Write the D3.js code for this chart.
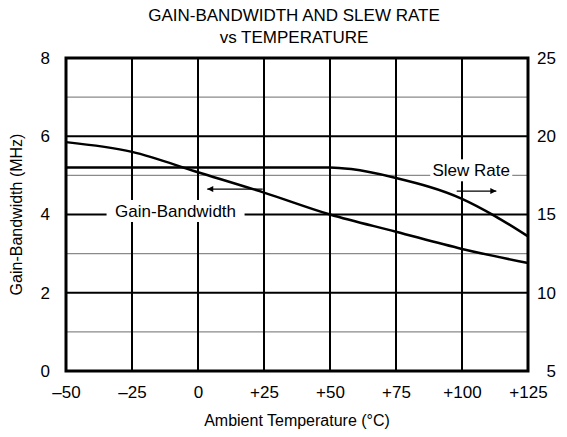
<!DOCTYPE html>
<html>
<head>
<meta charset="utf-8">
<script src="https://cdn.jsdelivr.net/npm/d3@7"></script>
<style>
  body { margin: 0; background: #fff; }
  text { font-family: "Liberation Sans", Arial, sans-serif; fill: #000; }
</style>
</head>
<body>
<div id="chart"></div>
<script>
// data
var temps = [-50, -25, 0, 25, 50, 75, 100, 125];
var gbw = [5.85, 5.6, 5.08, 4.56, 4.0, 3.56, 3.12, 2.76];
var slewTemps = [-50, -25, 0, 25, 50, 58, 75, 100, 112.5, 125];
var slew = [18, 18, 18, 18, 18, 17.9, 17.33, 16.0, 14.9, 13.6];
var xTickLabels = ["–50", "–25", "0", "+25", "+50", "+75", "+100", "+125"];
var leftTicks = [0, 2, 4, 6, 8];
var rightTicks = [5, 10, 15, 20, 25];
var minorTicks = [1, 3, 5, 7];

var W = 567, H = 437;
var margin = { top: 58, right: 39, bottom: 66, left: 66 };
var width = W - margin.left - margin.right;
var height = H - margin.top - margin.bottom;

var x = d3.scaleLinear().domain([-50, 125]).range([0, width]);
var yL = d3.scaleLinear().domain([0, 8]).range([height, 0]);
var yR = d3.scaleLinear().domain([5, 25]).range([height, 0]);

var svg = d3.select('#chart').append('svg')
    .attr('width', W)
    .attr('height', H);

// title
svg.append('text').attr('x', 294).attr('y', 21).attr('text-anchor', 'middle')
    .style('font-size', '17px').text('GAIN-BANDWIDTH AND SLEW RATE');
svg.append('text').attr('x', 294).attr('y', 43).attr('text-anchor', 'middle')
    .style('font-size', '17px').text('vs TEMPERATURE');

var g = svg.append('g')
    .attr('transform', 'translate(' + margin.left + ',' + margin.top + ')');

// minor gridlines (grey)
g.selectAll('.minor').data(minorTicks).enter().append('line')
    .attr('x1', 0).attr('x2', width)
    .attr('y1', function(d) { return yL(d); })
    .attr('y2', function(d) { return yL(d); })
    .style('stroke', '#8a8a8a').style('stroke-width', 1.3);

// major gridlines
g.selectAll('.major').data(leftTicks).enter().append('line')
    .attr('x1', 0).attr('x2', width)
    .attr('y1', function(d) { return yL(d); })
    .attr('y2', function(d) { return yL(d); })
    .style('stroke', '#000').style('stroke-width', 2);

g.selectAll('.vgrid').data(temps).enter().append('line')
    .attr('x1', function(d) { return x(d); })
    .attr('x2', function(d) { return x(d); })
    .attr('y1', 0).attr('y2', height)
    .style('stroke', '#000').style('stroke-width', 2);

// label boxes that break the grid
function labelBox(cx, cy, txt, w) {
  g.append('rect').attr('x', cx - w / 2).attr('y', cy - 11)
      .attr('width', w).attr('height', 22).style('fill', '#fff');
  g.append('text').attr('x', cx).attr('y', cy + 6).attr('text-anchor', 'middle')
      .style('font-size', '17px').text(txt);
}

var gbwLine = d3.line()
    .x(function(d, i) { return x(temps[i]); })
    .y(function(d) { return yL(d); })
    .curve(d3.curveMonotoneX);

var slewLine = d3.line()
    .x(function(d, i) { return x(slewTemps[i]); })
    .y(function(d) { return yR(d); })
    .curve(d3.curveMonotoneX);

labelBox(x(-8.5), yL(4.09), 'Gain-Bandwidth', 138);
labelBox(x(103.5), yL(5.13), 'Slew Rate', 82);

g.append('path').datum(gbw).attr('d', gbwLine)
    .style('fill', 'none').style('stroke', '#000').style('stroke-width', 2.5);
g.append('path').datum(slew).attr('d', slewLine)
    .style('fill', 'none').style('stroke', '#000').style('stroke-width', 2.5);

// arrows
svg.append('defs').append('marker')
    .attr('id', 'arr').attr('viewBox', '0 0 10 10')
    .attr('refX', 10).attr('refY', 5)
    .attr('markerWidth', 10).attr('markerHeight', 6)
    .attr('markerUnits', 'userSpaceOnUse')
    .attr('orient', 'auto')
    .append('path').attr('d', 'M0,0 L10,5 L0,10 z').style('fill', '#000');

g.append('line')
    .attr('x1', x(24.5)).attr('x2', x(3.5))
    .attr('y1', yL(4.65)).attr('y2', yL(4.65))
    .style('stroke', '#000').style('stroke-width', 1.2)
    .attr('marker-end', 'url(#arr)');
g.append('line')
    .attr('x1', x(98)).attr('x2', x(113))
    .attr('y1', yL(4.6)).attr('y2', yL(4.6))
    .style('stroke', '#000').style('stroke-width', 1.2)
    .attr('marker-end', 'url(#arr)');

// border
g.append('rect').attr('x', 0).attr('y', 0)
    .attr('width', width).attr('height', height)
    .style('fill', 'none').style('stroke', '#000').style('stroke-width', 3);

// axes
var xAxis = d3.axisBottom(x).tickValues(temps).tickSize(0).tickPadding(15)
    .tickFormat(function(d, i) { return xTickLabels[i]; });
var gx = g.append('g').attr('transform', 'translate(0,' + height + ')').call(xAxis);
var yAxisL = d3.axisLeft(yL).tickValues(leftTicks).tickSize(0).tickPadding(16);
var gyl = g.append('g').call(yAxisL);
var yAxisR = d3.axisRight(yR).tickValues(rightTicks).tickSize(0).tickPadding(28);
var gyr = g.append('g').attr('transform', 'translate(' + width + ',0)').call(yAxisR);
gyr.selectAll('text').attr('text-anchor', 'end');
[gx, gyl, gyr].forEach(function(a) {
  a.select('.domain').remove();
  a.selectAll('text').style('font-size', '17px')
      .style('font-family', '"Liberation Sans", Arial, sans-serif');
});

// axis titles
svg.append('text').attr('x', 297).attr('y', 426).attr('text-anchor', 'middle')
    .style('font-size', '16px').text('Ambient Temperature (°C)');
svg.append('text')
    .attr('transform', 'translate(22,' + (margin.top + height / 2) + ') rotate(-90)')
    .attr('text-anchor', 'middle')
    .style('font-size', '16px').text('Gain-Bandwidth (MHz)');
</script>
</body>
</html>
